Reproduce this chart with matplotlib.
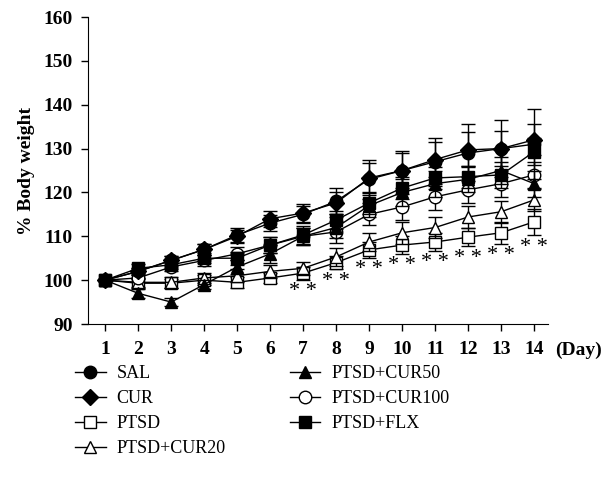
import matplotlib
matplotlib.use('Agg')
import matplotlib.pyplot as plt

plt.rcParams['font.family'] = ['Liberation Serif', 'DejaVu Serif']

days = list(range(1, 15))

sal = [100, 102, 104.5, 107, 110.3, 113, 115, 118, 123, 125, 127, 129, 130, 131]
cur = [100, 102, 104.5, 107, 110, 114, 115.3, 117.6, 123.3, 125, 127.5, 129.7, 130, 132]
ptsd = [100, 99.3, 99.3, 100, 99.5, 100.5, 101.6, 104, 106.9, 108, 108.7, 109.8, 110.8, 113.3]
cur20 = [100, 99.5, 99.5, 100.5, 101, 102, 102.7, 105.3, 108.7, 110.8, 112, 114.4, 115.6, 118.3]
cur50 = [100, 97, 95, 99, 103, 106, 110, 112, 117, 120, 122, 123, 125, 122]
cur100 = [100, 100.5, 103, 104.5, 106, 108, 110, 111, 115, 116.7, 119, 120.6, 122, 124]
flx = [100, 102.7, 103.5, 105, 105, 108, 110.3, 113.7, 117.6, 121, 123.3, 123.6, 124, 129.3]

sal_sem = [0, 0.8, 1, 1.2, 1.5, 1.8, 2, 3, 4.5, 4.5, 5.5, 6.5, 6.5, 8]
cur_sem = [0, 0.8, 1, 1.2, 1.5, 1.8, 2, 2.5, 3.5, 4, 4, 4, 4, 3.5]
ptsd_sem = [0, 1, 1, 1.2, 1.2, 1.2, 1.5, 1.5, 1.8, 2, 2, 2, 2.5, 3]
cur20_sem = [0, 1, 1.2, 1.2, 1.5, 1.5, 1.5, 2, 2, 2.5, 2.5, 2.5, 2.5, 2.5]
cur50_sem = [0, 1, 1, 1, 1.5, 2, 2, 2.5, 2.5, 3, 3, 3, 3, 3]
cur100_sem = [0, 1, 1, 1.2, 1.5, 1.8, 2, 2.5, 2.5, 3, 3, 3, 3, 3]
flx_sem = [0, 1, 1, 1.2, 1.5, 1.8, 2, 2, 2.5, 2.5, 2.5, 2.5, 3, 3]

star_days = [7, 8, 9, 10, 11, 12, 13, 14]

# label, values, sem, marker, face colour
groups = [
    ('SAL', sal, sal_sem, 'o', 'black'),
    ('CUR', cur, cur_sem, 'D', 'black'),
    ('PTSD', ptsd, ptsd_sem, 's', 'white'),
    ('PTSD+CUR20', cur20, cur20_sem, '^', 'white'),
    ('PTSD+CUR50', cur50, cur50_sem, '^', 'black'),
    ('PTSD+CUR100', cur100, cur100_sem, 'o', 'white'),
    ('PTSD+FLX', flx, flx_sem, 's', 'black'),
]
draw_order = [2, 3, 5, 6, 4, 1, 0]

fig = plt.figure(figsize=(6.03, 4.9), dpi=100)
ax = fig.add_axes([88 / 603, 1 - 324 / 490, (548 - 88) / 603, (324 - 17) / 490])

handles = {}
for z, i in enumerate(draw_order):
    label, vals, sem, mk, fc = groups[i]
    ax.errorbar(days, vals, yerr=sem, fmt='none', ecolor='black', elinewidth=1,
                capsize=5, capthick=1, zorder=2 + z)
    ms = 8 if mk == 'D' else 9
    line, = ax.plot(days, vals, color='black', lw=1, marker=mk, ms=ms,
                    mfc=fc, mec='black', mew=1, label=label, zorder=2 + z)
    handles[i] = line

# significance marks under the PTSD group
for d in star_days:
    k = days.index(d)
    ax.annotate('* *', (d, ptsd[k] - ptsd_sem[k]), xytext=(0, -12),
                textcoords='offset points', ha='center', va='baseline',
                fontsize=16)

ax.set_xlim(0.48, 14.42)
ax.set_ylim(90, 160)
ax.set_xticks(days)
ax.set_yticks(range(90, 161, 10))
ax.spines['top'].set_visible(False)
ax.spines['right'].set_visible(False)
ax.tick_params(direction='out', length=5, width=1, labelsize=14)
for t in ax.get_xticklabels() + ax.get_yticklabels():
    t.set_fontweight('bold')
ax.tick_params(axis='x', pad=7)
ax.tick_params(axis='y', pad=6)
ax.set_ylabel('% Body weight', fontsize=14, fontweight='bold', labelpad=6)
fig.text(578 / 603, 1 - 350 / 490, '(Day)', fontsize=14, fontweight='bold',
         ha='center', va='center')

leg = fig.legend([handles[i] for i in range(7)], [g[0] for g in groups],
                 loc='upper left', bbox_to_anchor=(75 / 603, 1 - 365 / 490),
                 ncol=2, frameon=False, fontsize=13, handlelength=1.7,
                 handletextpad=0.6, columnspacing=3.55, labelspacing=0.45,
                 borderpad=0, borderaxespad=0)

fig.savefig('out.png', dpi=100)
